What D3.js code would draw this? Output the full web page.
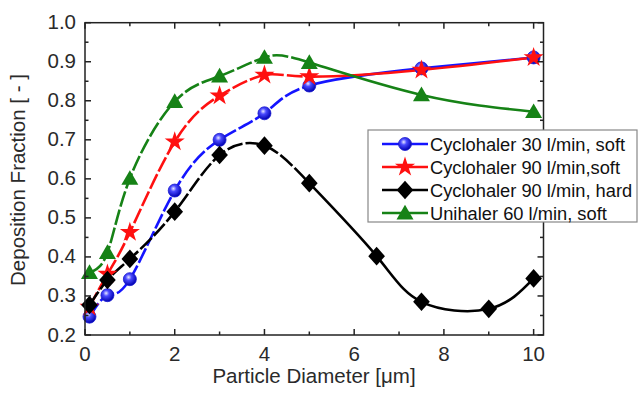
<!DOCTYPE html>
<html>
<head>
<meta charset="utf-8">
<script src="https://cdn.jsdelivr.net/npm/d3@7/dist/d3.min.js"></script>
<style>
  html, body { margin: 0; padding: 0; background: #fff; }
  svg { display: block; font-family: "Liberation Sans", Arial, sans-serif; }
</style>
</head>
<body>
<svg id="chart" width="638" height="394"></svg>
<script>
// Deposition fraction versus particle diameter for four inhaler set-ups
const seriesNames = [
  "Cyclohaler 30 l/min, soft",
  "Cyclohaler 90 l/min,soft",
  "Cyclohaler 90 l/min, hard",
  "Unihaler 60 l/min, soft"
];
const diamSoft = [0.1, 0.5, 1, 2, 3, 4, 5, 7.5, 10];
const diamHard = [0.1, 0.5, 1, 2, 3, 4, 5, 6.5, 7.5, 9, 10];
const cyclo30Soft = [0.247, 0.302, 0.343, 0.570, 0.700, 0.768, 0.839, 0.883, 0.911];
const cyclo90Soft = [0.272, 0.356, 0.463, 0.695, 0.813, 0.866, 0.862, 0.879, 0.911];
const cyclo90Hard = [0.277, 0.341, 0.395, 0.516, 0.661, 0.685, 0.589, 0.402, 0.285, 0.267, 0.345];
const uni60Soft   = [0.360, 0.411, 0.601, 0.798, 0.863, 0.911, 0.898, 0.815, 0.772];
const xTicks = [0, 2, 4, 6, 8, 10];
const yTicks = [0.2, 0.3, 0.4, 0.5, 0.6, 0.7, 0.8, 0.9, 1.0];

const svg = d3.select("#chart");
const L = 85, R = 543.5, T = 22.7, B = 335;
const x = d3.scaleLinear().domain([0, 10.22]).range([L, R]);
const y = d3.scaleLinear().domain([0.2, 1.0]).range([B, T]);
const textColor = "#2a2a2a";

// gradient for the shaded blue spheres
const defs = svg.append("defs");
const grad = defs.append("radialGradient").attr("id", "sphere")
  .attr("cx", "0.4").attr("cy", "0.35").attr("r", "0.65");
grad.append("stop").attr("offset", "0").attr("stop-color", "#e8e8ff");
grad.append("stop").attr("offset", "0.35").attr("stop-color", "#4a4aff");
grad.append("stop").attr("offset", "1").attr("stop-color", "#0000b0");

const series = [
  { name: seriesNames[0], xs: diamSoft, ys: cyclo30Soft, color: "#1414ff", shape: "circle" },
  { name: seriesNames[1], xs: diamSoft, ys: cyclo90Soft, color: "#ff1010", shape: "star" },
  { name: seriesNames[2], xs: diamHard, ys: cyclo90Hard, color: "#000000", shape: "diamond" },
  { name: seriesNames[3], xs: diamSoft, ys: uni60Soft,   color: "#168216", shape: "triangle" }
];

const line = d3.line().curve(d3.curveNatural).x(d => x(d[0])).y(d => y(d[1]));

function marker(g, shape, color, cx, cy) {
  if (shape === "circle") {
    g.append("circle").attr("cx", cx).attr("cy", cy).attr("r", 6.5)
      .attr("fill", "url(#sphere)").attr("stroke", "#1a1ad0").attr("stroke-width", 0.8);
  } else {
    const sym = { star: d3.symbolStar, diamond: d3.symbolDiamond, triangle: d3.symbolTriangle }[shape];
    const size = { star: 125, diamond: 100, triangle: 125 }[shape];
    let tr = `translate(${cx},${cy})`;
    if (shape === "diamond") tr += " scale(1.55,1)";
    if (shape === "triangle") tr += " translate(0,1.5)";
    g.append("path").attr("d", d3.symbol(sym, size)()).attr("transform", tr).attr("fill", color);
  }
}

const plot = svg.append("g");
series.forEach(s => {
  const pts = s.xs.map((v, i) => [v, s.ys[i]]);
  const path = plot.append("path").datum(pts).attr("d", line)
    .attr("fill", "none").attr("stroke", s.color).attr("stroke-width", 2.6);
  // dashed on the steep left part, solid further right
  const node = path.node();
  const total = node.getTotalLength();
  let lo = 0, hi = total;
  for (let k = 0; k < 30; k++) {
    const mid = (lo + hi) / 2;
    if (node.getPointAtLength(mid).x < x(5)) lo = mid; else hi = mid;
  }
  const dashes = [];
  let acc = 0;
  while (acc + 19 < lo) { dashes.push(16, 3); acc += 19; }
  dashes.push(total + 10, 0);
  path.attr("stroke-dasharray", dashes.join(","));
});
series.forEach(s => {
  s.xs.forEach((v, i) => marker(plot, s.shape, s.color, x(v), y(s.ys[i])));
});

// frame with inward ticks on all four sides
const frame = svg.append("g").attr("stroke", "#222").attr("stroke-width", 1.5);
frame.append("rect").attr("x", L).attr("y", T).attr("width", R - L).attr("height", B - T).attr("fill", "none");
const xMinor = d3.range(1, 11, 2);
const yMinor = d3.range(0.25, 1.0, 0.1);
xTicks.concat(xMinor).forEach(v => {
  const len = xTicks.includes(v) ? 6 : 3.5;
  frame.append("line").attr("x1", x(v)).attr("x2", x(v)).attr("y1", B).attr("y2", B - len);
  frame.append("line").attr("x1", x(v)).attr("x2", x(v)).attr("y1", T).attr("y2", T + len);
});
yTicks.forEach(v => {
  frame.append("line").attr("x1", L).attr("x2", L + 6).attr("y1", y(v)).attr("y2", y(v));
  frame.append("line").attr("x1", R).attr("x2", R - 6).attr("y1", y(v)).attr("y2", y(v));
});
yMinor.forEach(v => {
  frame.append("line").attr("x1", L).attr("x2", L + 3.5).attr("y1", y(v)).attr("y2", y(v));
  frame.append("line").attr("x1", R).attr("x2", R - 3.5).attr("y1", y(v)).attr("y2", y(v));
});

// tick labels
const fmt = d3.format(".1f");
svg.append("g").selectAll("text").data(yTicks).join("text")
  .attr("x", 76).attr("y", d => y(d) + 6.5).attr("text-anchor", "end")
  .attr("font-size", 20.5).attr("fill", textColor).text(d => fmt(d));
svg.append("g").selectAll("text").data(xTicks).join("text")
  .attr("x", d => x(d)).attr("y", 361).attr("text-anchor", "middle")
  .attr("font-size", 20.5).attr("fill", textColor).text(d => d);

// axis titles
svg.append("text").attr("x", 314).attr("y", 383).attr("text-anchor", "middle")
  .attr("font-size", 20.5).attr("fill", textColor).text("Particle Diameter [\u03BCm]");
svg.append("text").attr("transform", "translate(25,180) rotate(-90)").attr("text-anchor", "middle")
  .attr("font-size", 20.5).attr("fill", textColor).text("Deposition Fraction [ - ]");

// legend
const lg = svg.append("g");
lg.append("rect").attr("x", 368).attr("y", 130).attr("width", 269).attr("height", 92)
  .attr("fill", "#fff").attr("stroke", "#888").attr("stroke-width", 1.2);
series.forEach((s, i) => {
  const cy = 144 + i * 23;
  lg.append("line").attr("x1", 382).attr("x2", 428).attr("y1", cy).attr("y2", cy)
    .attr("stroke", s.color).attr("stroke-width", 2.6);
  marker(lg, s.shape, s.color, 405, cy);
  lg.append("text").attr("x", 430).attr("y", cy + 6.5).attr("font-size", 18.3).attr("fill", "#111").text(s.name);
});
</script>
</body>
</html>
